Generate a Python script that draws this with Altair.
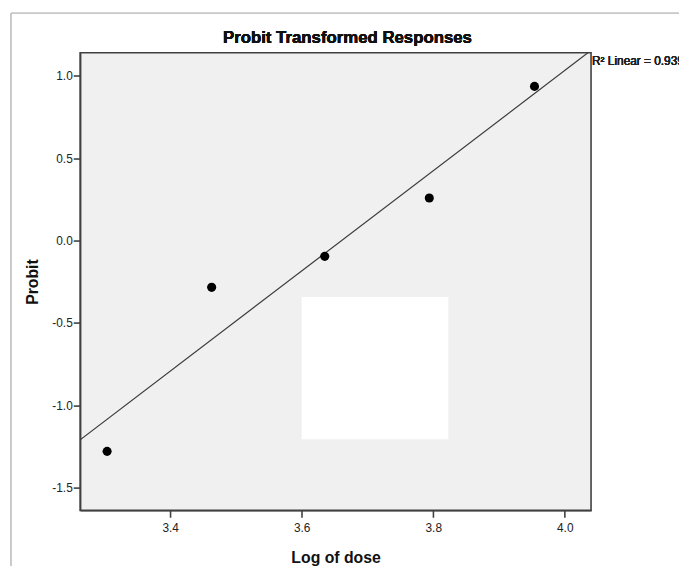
import altair as alt
import pandas as pd

# Data
log_dose = [3.304, 3.463, 3.635, 3.794, 3.954]
probit = [-1.28, -0.284, -0.096, 0.258, 0.936]

x_domain = [3.263, 4.04]
y_domain = [-1.638, 1.14]
x_ticks = [3.4, 3.6, 3.8, 4.0]
y_ticks = [-1.5, -1.0, -0.5, 0.0, 0.5, 1.0]

# blank white box in the plot (data coordinates)
box_x = [3.6]
box_x2 = [3.823]
box_y = [-0.342]
box_y2 = [-1.206]

chart_title = "Probit Transformed Responses"
r2_label = "R\u00b2 Linear = 0.939"

W, H = 517, 463
FONT = "Liberation Sans, Arial, sans-serif"
LBL = "datum.value < 0 ? '-' + format(-datum.value, '.1f') : format(datum.value, '.1f')"

df = pd.DataFrame({"logdose": log_dose, "probit": probit})
box_df = pd.DataFrame({"x": box_x, "x2": box_x2, "y": box_y, "y2": box_y2})

xs = alt.Scale(domain=x_domain, nice=False, zero=False)
ys = alt.Scale(domain=y_domain, nice=False, zero=False)

xaxis = alt.Axis(values=x_ticks, labelExpr=LBL, title="Log of dose", grid=False,
                 tickSize=7, labelPadding=5, titlePadding=17)
yaxis = alt.Axis(values=y_ticks, labelExpr=LBL, title="Probit", grid=False,
                 tickSize=7, labelPadding=1, titlePadding=11)

base = alt.Chart(df)

box = alt.Chart(box_df).mark_rect(color="white", opacity=1).encode(
    x=alt.X("x:Q", scale=xs, axis=xaxis),
    x2="x2:Q",
    y=alt.Y("y:Q", scale=ys, axis=yaxis),
    y2="y2:Q",
)

line = base.transform_regression(
    "logdose", "probit", extent=x_domain
).mark_line(color="#3a3a3a", strokeWidth=1.2, clip=True).encode(
    x=alt.X("logdose:Q", scale=xs, axis=xaxis),
    y=alt.Y("probit:Q", scale=ys, axis=yaxis),
)

points = base.mark_circle(color="black", opacity=1, size=85).encode(
    x=alt.X("logdose:Q", scale=xs, axis=xaxis),
    y=alt.Y("probit:Q", scale=ys, axis=yaxis),
)

r2 = base.mark_text(text=r2_label, align="left", baseline="middle",
                    fontSize=12, font=FONT, color="#222").encode(
    x=alt.value(W + 1), y=alt.value(8)
)

title = base.mark_text(text=chart_title, align="center", baseline="middle",
                       fontSize=17, font=FONT, fontWeight="bold", color="#111").encode(
    x=alt.value(W / 2 + 12), y=alt.value(-15)
)

border_left = base.mark_rule(color="#c8c8c8", strokeWidth=1).encode(
    x=alt.value(-70), y=alt.value(-40), y2=alt.value(H + 80)
)
border_top = base.mark_rule(color="#c8c8c8", strokeWidth=1).encode(
    x=alt.value(-70), x2=alt.value(W + 120), y=alt.value(-40)
)

chart = alt.layer(border_left, border_top, box, line, points, r2, title).properties(
    width=W,
    height=H,
    background="white",
    autosize=alt.AutoSizeParams(type="none"),
    padding={"left": 73, "top": 42, "right": 89, "bottom": 53},
).configure_view(
    fill="#f0f0f0", stroke="#404040", strokeWidth=1.6
).configure_axis(
    domainColor="#404040", domainWidth=1.6, tickColor="#404040", tickWidth=1.6,
    labelFont=FONT, labelFontSize=12, labelColor="#222",
    titleFont=FONT, titleFontSize=16, titleFontWeight="bold", titleColor="#111",
)

chart.save("out.html", embed_options={"renderer": "svg", "actions": False})
